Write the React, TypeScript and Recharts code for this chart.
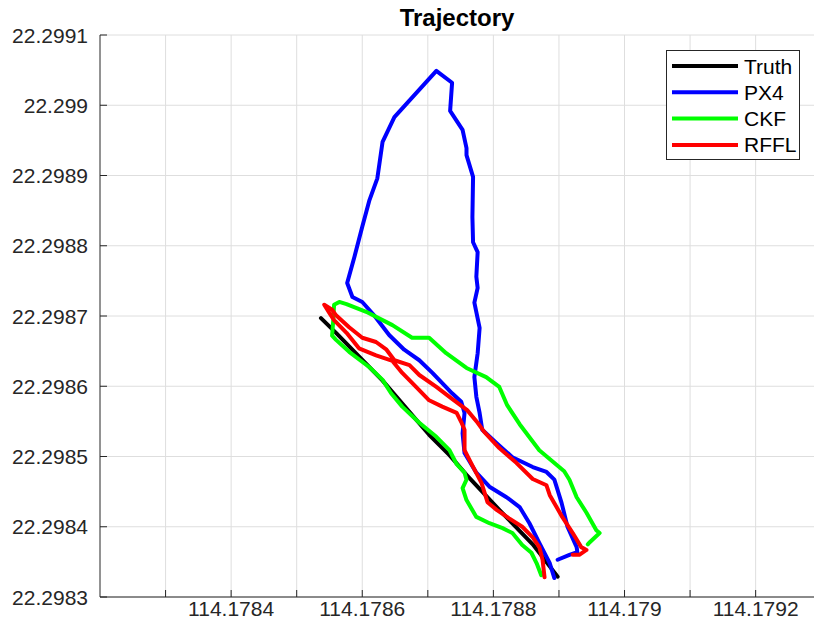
import React from "react";
import { LineChart, Line, XAxis, YAxis, CartesianGrid } from "recharts";

// ---- data (longitude / latitude) ----
const truthX = [114.178537, 114.17856, 114.178631, 114.178702, 114.178733, 114.178759, 114.178809, 114.17886, 114.178898];
const truthY = [22.298697, 22.298676, 22.298608, 22.298531, 22.298502, 22.298474, 22.298424, 22.298375, 22.298329];

const px4X = [
  114.178893, 114.178886, 114.17887, 114.178855, 114.17884, 114.17882, 114.178794, 114.178774, 114.178756, 114.178753,
  114.178756, 114.178751, 114.178737, 114.178707, 114.178687, 114.178664, 114.178641, 114.178618, 114.1786, 114.178585,
  114.178577, 114.178588, 114.1786, 114.178611, 114.178623, 114.178631, 114.178649, 114.178713, 114.178737, 114.178734,
  114.178753, 114.178759, 114.178759, 114.178769, 114.178768, 114.178769, 114.178776, 114.178774, 114.178776, 114.178771,
  114.178779, 114.178776, 114.178771, 114.178774, 114.178779, 114.178783, 114.178805, 114.178829, 114.17886, 114.178881,
  114.178893, 114.178904, 114.178913, 114.178927, 114.178928, 114.178916, 114.178898,
];
const px4Y = [
  22.298327, 22.298348, 22.298377, 22.298405, 22.298428, 22.298442, 22.298457, 22.298477, 22.298505, 22.298533,
  22.298562, 22.298578, 22.29859, 22.298619, 22.298637, 22.298652, 22.298673, 22.298701, 22.29872, 22.298727,
  22.298747, 22.298784, 22.298827, 22.298865, 22.298896, 22.298948, 22.298983, 22.299049, 22.299032, 22.298992,
  22.298965, 22.298939, 22.298929, 22.298898, 22.298841, 22.298805, 22.298791, 22.298756, 22.29874, 22.298719,
  22.298683, 22.298647, 22.298613, 22.298585, 22.298562, 22.298538, 22.298519, 22.298499, 22.298485, 22.298478,
  22.298467, 22.298434, 22.2984, 22.298371, 22.298364, 22.29836, 22.298353,
];

const ckfX = [
  114.178873, 114.178866, 114.178858, 114.178844, 114.178829, 114.178814, 114.178794, 114.178774, 114.178759, 114.178753,
  114.178759, 114.178756, 114.178744, 114.178733, 114.178713, 114.178687, 114.178661, 114.178644, 114.178631, 114.178611,
  114.17858, 114.17856, 114.178554, 114.178556, 114.178557, 114.178565, 114.178576, 114.178606, 114.178646, 114.178676,
  114.178702, 114.178728, 114.178759, 114.178789, 114.178809, 114.178821, 114.17884, 114.17887, 114.178908, 114.178916,
  114.178927, 114.178942, 114.178957, 114.178962, 114.178947, 114.178944,
];
const ckfY = [
  22.298331, 22.298348, 22.298363, 22.298374, 22.298391, 22.298398, 22.298405, 22.298414, 22.298438, 22.298455,
  22.298467, 22.298477, 22.298489, 22.298509, 22.298528, 22.298548, 22.298571, 22.29859, 22.298609, 22.298627,
  22.298649, 22.298666, 22.298672, 22.298697, 22.298716, 22.29872, 22.298717, 22.298706, 22.298687, 22.298669,
  22.298669, 22.298647, 22.298626, 22.298613, 22.298599, 22.298573, 22.298546, 22.298509, 22.298479, 22.298467,
  22.298442, 22.29842, 22.298395, 22.298391, 22.298378, 22.298375,
];

const rfflX = [
  114.178878, 114.178875, 114.17887, 114.17886, 114.178844, 114.178824, 114.178805, 114.178791, 114.178782, 114.178768,
  114.178756, 114.178756, 114.178751, 114.178744, 114.178722, 114.178702, 114.178682, 114.178661, 114.178646, 114.178621,
  114.178595, 114.178576, 114.178557, 114.17855, 114.178542, 114.178554, 114.17856, 114.17858, 114.1786, 114.178621,
  114.178637, 114.178649, 114.178672, 114.178687, 114.178713, 114.178737, 114.17876, 114.178776, 114.178786, 114.178809,
  114.178835, 114.17886, 114.178881, 114.178886, 114.178905, 114.178921, 114.178934, 114.178942, 114.178931, 114.178921,
];
const rfflY = [
  22.298328, 22.298353, 22.298371, 22.298385, 22.2984, 22.298412, 22.298424, 22.298435, 22.298462, 22.298487,
  22.298509, 22.298538, 22.298549, 22.298562, 22.298571, 22.29858, 22.298599, 22.298619, 22.298636, 22.298644,
  22.298654, 22.298676, 22.298694, 22.298704, 22.298716, 22.298709, 22.298701, 22.298684, 22.298669, 22.298663,
  22.298652, 22.298637, 22.29863, 22.298616, 22.298599, 22.298582, 22.298566, 22.298548, 22.298535, 22.298512,
  22.298491, 22.298468, 22.298459, 22.298445, 22.298414, 22.298391, 22.298371, 22.298367, 22.29836, 22.29836,
];

const xTicks = [114.1783, 114.1784, 114.1785, 114.1786, 114.1787, 114.1788, 114.1789, 114.179, 114.1791, 114.1792];
const xTickLabels = ["", "114.1784", "", "114.1786", "", "114.1788", "", "114.179", "", "114.1792"];
const yTicks = [22.2983, 22.2984, 22.2985, 22.2986, 22.2987, 22.2988, 22.2989, 22.299, 22.2991];
const yTickLabels = ["22.2983", "22.2984", "22.2985", "22.2986", "22.2987", "22.2988", "22.2989", "22.299", "22.2991"];

const seriesNames = ["Truth", "PX4", "CKF", "RFFL"];
const seriesColors = ["#000000", "#0000ff", "#00ff00", "#ff0000"];

const zip = (xs: number[], ys: number[]) => xs.map((x, i) => ({ x, y: ys[i] }));
const seriesData = [zip(truthX, truthY), zip(px4X, px4Y), zip(ckfX, ckfY), zip(rfflX, rfflY)];

const FONT = "'Liberation Sans', Arial, Helvetica, sans-serif";
const AX = "#262626";

const findIdx = (arr: number[], v: number) => arr.findIndex((t) => Math.abs(t - v) < 1e-9);

const XTick = (props: any) => {
  const { x, y, payload } = props;
  const i = findIdx(xTicks, payload.value);
  return (
    <g>
      <line x1={x} y1={y} x2={x} y2={y - 7} stroke={AX} strokeWidth={1} />
      <text x={x} y={y + 19} textAnchor="middle" fontSize={21} fontFamily={FONT} fill={AX}>
        {i >= 0 ? xTickLabels[i] : ""}
      </text>
    </g>
  );
};

const YTick = (props: any) => {
  const { x, y, payload } = props;
  const i = findIdx(yTicks, payload.value);
  return (
    <g>
      <line x1={x} y1={y} x2={x + 7} y2={y} stroke={AX} strokeWidth={1} />
      <text x={x - 12} y={y + 7.5} textAnchor="end" fontSize={21} fontFamily={FONT} fill={AX}>
        {i >= 0 ? yTickLabels[i] : ""}
      </text>
    </g>
  );
};

const LegendBox = () => (
  <svg width={134} height={110} style={{ display: "block" }}>
    <rect x={0.5} y={0.5} width={133} height={109} fill="#ffffff" stroke={AX} strokeWidth={1} />
    {seriesNames.map((n, i) => {
      const cy = 16 + i * 26.3;
      return (
        <g key={n}>
          <line x1={6} y1={cy} x2={72} y2={cy} stroke={seriesColors[i]} strokeWidth={4} />
          <text x={78} y={cy + 7.5} fontSize={21} fontFamily={FONT} fill="#000000">
            {n}
          </text>
        </g>
      );
    })}
  </svg>
);

const vGen = (p: any) => {
  const s = p?.xAxis?.scale;
  if (!s) return [];
  return xTicks.map((t) => (typeof s.map === "function" ? s.map(t) : s(t)));
};

export default function App() {
  return (
    <div style={{ position: "absolute", left: 0, top: 0, width: 814, height: 630, background: "#ffffff" }}>
      <LineChart width={814} height={630} margin={{ top: 35, right: 0, left: 0, bottom: 0 }}>
        <CartesianGrid stroke="#dedede" strokeWidth={1} verticalCoordinatesGenerator={vGen} />
        <XAxis
          dataKey="x"
          type="number"
          domain={[114.1782, 114.179289]}
          ticks={xTicks}
          interval={0}
          allowDataOverflow
          height={33}
          tickSize={0}
          tickMargin={0}
          tickLine={false}
          tick={<XTick />}
          axisLine={{ stroke: AX, strokeWidth: 1 }}
        />
        <YAxis
          dataKey="y"
          type="number"
          domain={[22.2983, 22.2991]}
          ticks={yTicks}
          interval={0}
          allowDataOverflow
          width={100}
          tickSize={0}
          tickMargin={0}
          tickLine={false}
          tick={<YTick />}
          axisLine={{ stroke: AX, strokeWidth: 1 }}
        />
        {seriesData.map((d, i) => (
          <Line
            key={seriesNames[i]}
            data={d}
            dataKey="y"
            name={seriesNames[i]}
            type="linear"
            stroke={seriesColors[i]}
            strokeWidth={4}
            strokeLinejoin="round"
            strokeLinecap="round"
            dot={false}
            activeDot={false}
            isAnimationActive={false}
          />
        ))}
      </LineChart>
      <div
        style={{
          position: "absolute",
          left: 100,
          top: 5,
          width: 714,
          textAlign: "center",
          fontFamily: FONT,
          fontWeight: "bold",
          fontSize: 24,
          lineHeight: "26px",
          color: "#000000",
        }}
      >
        Trajectory
      </div>
      <div style={{ position: "absolute", left: 666, top: 50 }}>
        <LegendBox />
      </div>
    </div>
  );
}
